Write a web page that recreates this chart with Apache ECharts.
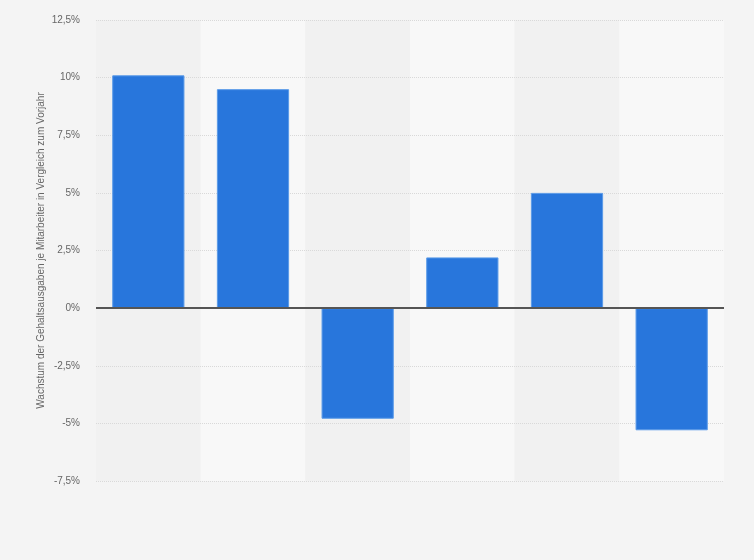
<!DOCTYPE html>
<html>
<head>
<meta charset="utf-8">
<script src="https://cdn.jsdelivr.net/npm/echarts@6/dist/echarts.min.js"></script>
<style>
  html, body { margin: 0; padding: 0; background: #f4f4f4; }
  #chart { width: 754px; height: 560px; }
</style>
</head>
<body>
<div id="chart"></div>
<script>
// categories are not labelled in the original
const categories = ['1', '2', '3', '4', '5', '6'];
const growth = [10.1, 9.5, -4.8, 2.2, 5.0, -5.3];
const yTicks = { min: -7.5, max: 12.5, step: 2.5 };
const yTitle = 'Wachstum der Gehaltsausgaben je Mitarbeiter in Vergleich zum Vorjahr';

let chart = echarts.init(document.getElementById('chart'));

chart.setOption({
    backgroundColor: '#f4f4f4',
    animation: false,
    grid: { left: 96, right: 30, top: 20, bottom: 79 },
    xAxis: {
        type: 'category',
        data: categories,
        z: 0,
        axisLine: { show: false },
        axisTick: { show: false },
        axisLabel: { show: false },
        splitArea: { show: true, areaStyle: { color: ['#f1f1f1', '#f8f8f8'] } }
    },
    yAxis: {
        type: 'value',
        min: yTicks.min,
        max: yTicks.max,
        interval: yTicks.step,
        z: 1,
        name: yTitle,
        nameLocation: 'middle',
        nameGap: 50,
        nameMoveOverlap: false,
        nameTextStyle: { color: '#666', fontSize: 10, fontFamily: 'Liberation Sans, Arial, sans-serif' },
        axisLine: { show: false },
        axisTick: { show: false },
        axisLabel: {
            color: '#666',
            fontSize: 10,
            margin: 16,
            fontFamily: 'Liberation Sans, Arial, sans-serif',
            formatter: v => String(v).replace('.', ',') + '%'
        },
        splitLine: { lineStyle: { color: '#d9d9d9', type: [1, 1], width: 1 } }
    },
    series: [{
        type: 'bar',
        data: growth,
        barWidth: '69%',
        itemStyle: { color: '#2876dc', borderColor: '#5a9ae8', borderWidth: 1 },
        markLine: {
            silent: true,
            symbol: 'none',
            label: { show: false },
            lineStyle: { color: '#555', width: 2, type: 'solid' },
            data: [{ yAxis: 0 }]
        }
    }]
});
</script>
</body>
</html>
